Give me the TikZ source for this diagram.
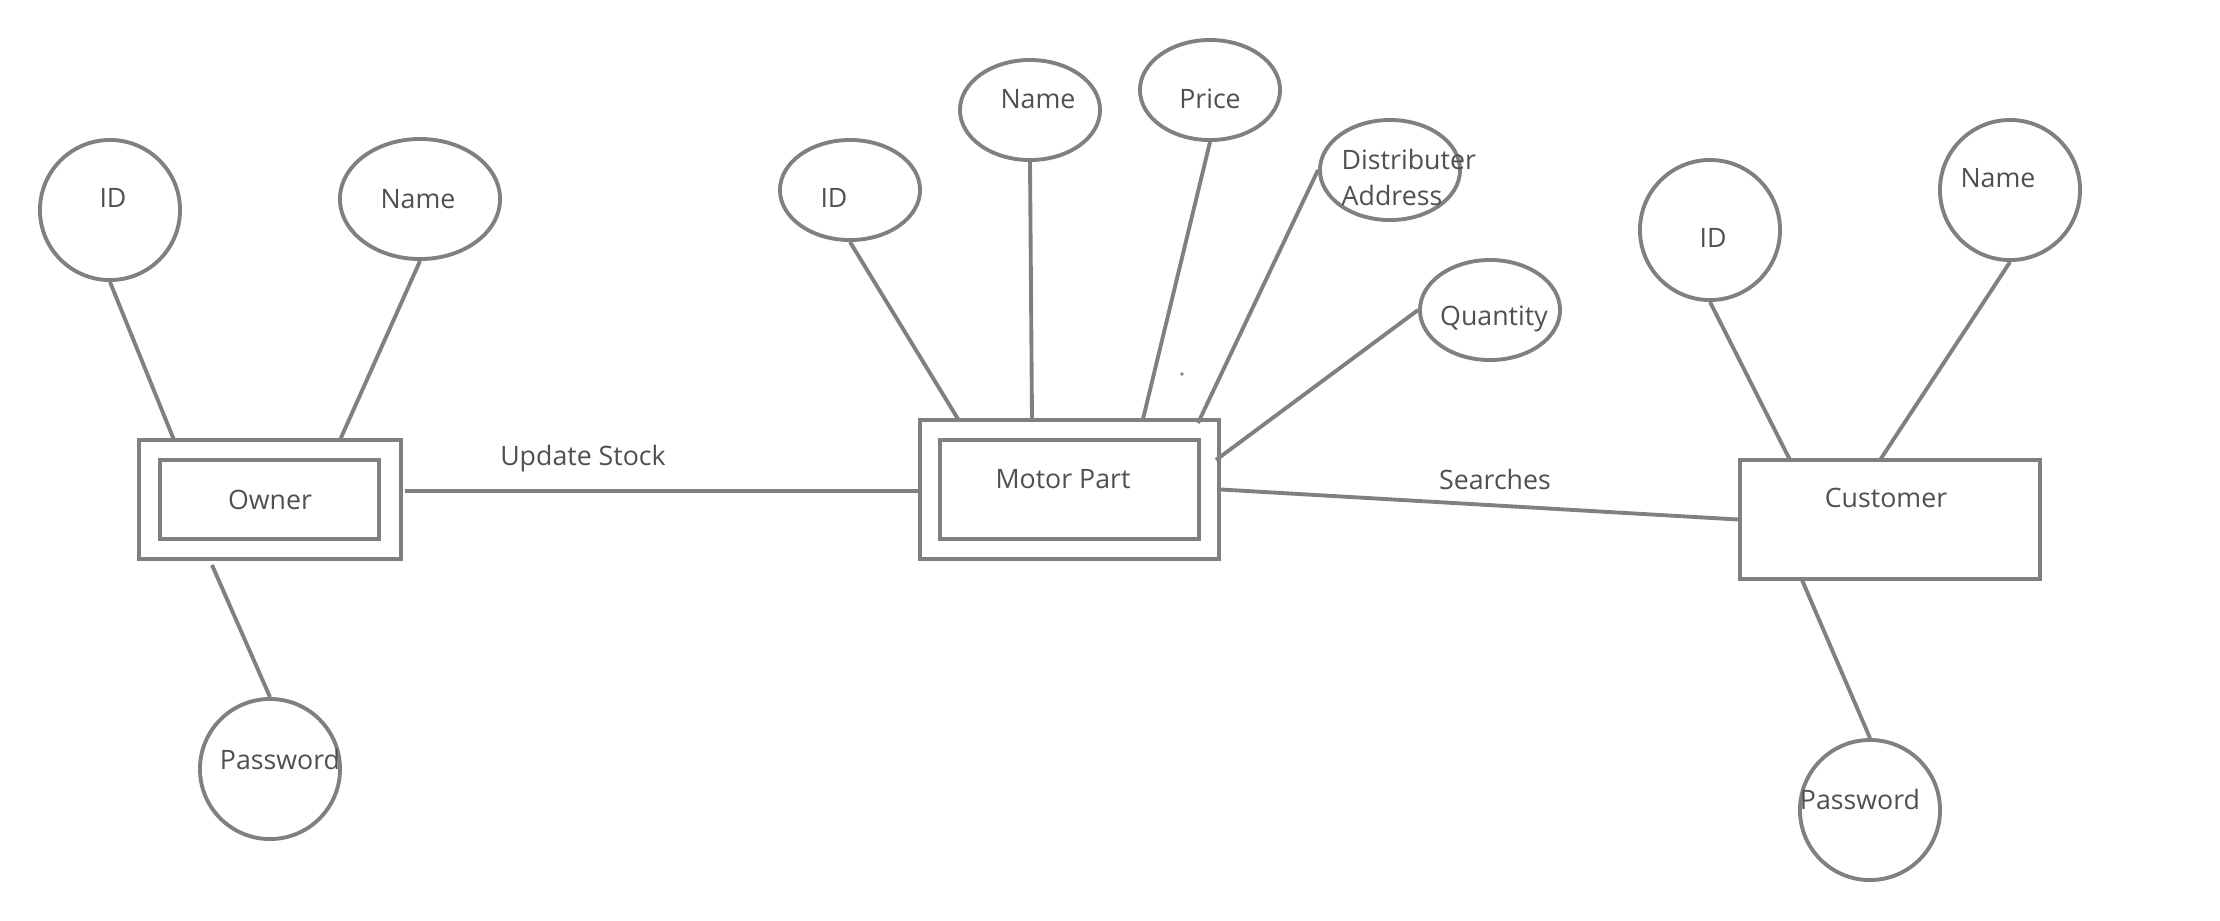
\documentclass[tikz,border=0pt]{standalone}
\usepackage{fontspec}
\setmainfont{Open Sans}
\usetikzlibrary{shapes.geometric}
\definecolor{lncol}{HTML}{808080}
\definecolor{txcol}{HTML}{505050}
\begin{document}
\begin{tikzpicture}[x=0.01cm,y=-0.01cm,
  attr/.style={draw=lncol,line width=1.1pt,ellipse,inner sep=0pt,minimum width=1.4cm,minimum height=1.0cm},
  circ/.style={attr,minimum height=1.4cm},
  ent/.style={draw=lncol,line width=1.1pt,rectangle,inner sep=0pt},
  txt/.style={text=txcol,font=\fontsize{7.6}{9}\selectfont,inner sep=0pt},
  conn/.style={draw=lncol,line width=1.1pt}]
\fill[white] (0,0) rectangle (2220,920);
\useasboundingbox (0,0) rectangle (2220,920);

% ---------- Owner ----------
\node[ent,minimum width=2.62cm,minimum height=1.19cm] (own) at (270,499.5) {};
\node[ent,minimum width=2.19cm,minimum height=0.79cm] (owni) at (269.5,499.5) {};
\node[txt] (ownt) at (270,500) {Owner};
\node[circ] (oid) at (110,210) {};
\node[txt] at (113,198) {ID};
\node[attr,minimum width=1.6cm,minimum height=1.2cm] (oname) at (420,199) {};
\node[txt] at (418,199) {Name};
\node[circ] (opw) at (270,769) {};
\node[txt] at (280,759) {Password};
\coordinate (own-a) at (174,440);
\coordinate (own-b) at (340,440);
\coordinate (own-c) at (212,565);
\coordinate (own-d) at (405,491);
\draw[conn] (oid.south) -- (own-a);
\draw[conn] (oname.south) -- (own-b);
\draw[conn] (own-c) -- (opw.north);

% ---------- Motor Part ----------
\node[ent,minimum width=2.99cm,minimum height=1.39cm] (mp) at (1069.5,489.5) {};
\node[ent,minimum width=2.59cm,minimum height=0.99cm] (mpi) at (1069.5,489.5) {};
\node[txt] (mpt) at (1063,479) {Motor Part};
\node[attr] (mid) at (850,190) {};
\node[txt] at (834,198) {ID};
\node[attr] (mname) at (1030,110) {};
\node[txt] at (1038,99) {Name};
\node[attr] (mprice) at (1210,90) {};
\node[txt] at (1210,99) {Price};
\node[attr] (mdist) at (1390,170) {};
\node[txt,anchor=west] at (1341,159) {Distributer};
\node[txt,anchor=west] at (1341,195) {Address};
\node[attr] (mqty) at (1490,310) {};
\node[txt] at (1494,319) {Quantity};
\coordinate (mp-a) at (958,419);
\coordinate (mp-b) at (1032,419);
\coordinate (mp-c) at (1143,419);
\coordinate (mp-d) at (1198,423);
\coordinate (mp-e) at (1216,460);
\draw[conn] (mid.south) -- (mp-a);
\draw[conn] (mname.south) -- (mp-b);
\draw[conn] (mprice.south) -- (mp-c);
\draw[conn] (mdist.west) -- (mp-d);
\draw[conn] (mqty.west) -- (mp-e);
\fill[lncol] (1182,374) circle (1.8);

% ---------- Customer ----------
\node[ent,minimum width=3.0cm,minimum height=1.19cm] (cust) at (1890,519.5) {};
\node[txt] (custt) at (1886,498) {Customer};
\node[circ] (cid) at (1710,230) {};
\node[txt] at (1713,238) {ID};
\node[circ] (cname) at (2010,190) {};
\node[txt] at (1998,178) {Name};
\node[circ] (cpw) at (1870,810) {};
\node[txt] at (1860,799) {Password};
\coordinate (cu-a) at (1790,460);
\coordinate (cu-b) at (1880,460);
\coordinate (cu-c) at (1802,580);
\draw[conn] (cid.south) -- (cu-a);
\draw[conn] (cname.south) -- (cu-b);
\draw[conn] (cu-c) -- (cpw.north);

% ---------- Relationships ----------
\draw[conn] (own-d) -- (mp.west |- own-d);
\node[txt] (upd) at (583,459) {Update Stock};
\draw[conn] (mp.east) -- (cust.west);
\node[txt] (srch) at (1495,479) {Searches};
\end{tikzpicture}
\end{document}
